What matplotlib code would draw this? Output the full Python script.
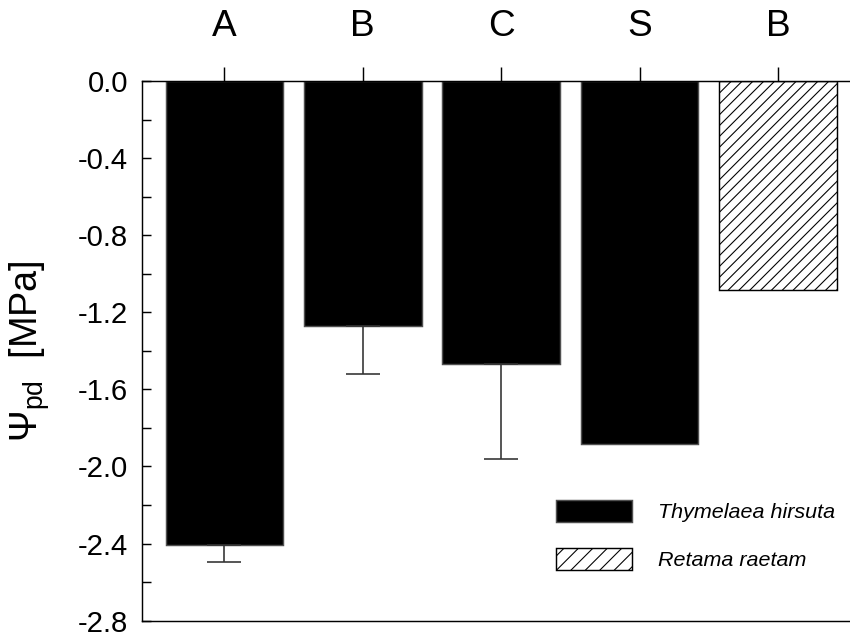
import matplotlib
matplotlib.use("Agg")
import matplotlib.pyplot as plt
from matplotlib.patches import Patch
import numpy as np

plt.rcParams['font.family'] = ['Liberation Sans', 'DejaVu Sans']
plt.rcParams['mathtext.fontset'] = 'custom'
plt.rcParams['mathtext.rm'] = 'Liberation Sans'
plt.rcParams['hatch.linewidth'] = 0.6

# data
categories = ['A', 'B', 'C', 'S', 'B']
psi_pd = [-2.41, -1.27, -1.47, -1.885, -1.085]
psi_err = [0.085, 0.25, 0.49, 0.0, 0.0]
species = ['Thymelaea hirsuta', 'Thymelaea hirsuta', 'Thymelaea hirsuta',
           'Thymelaea hirsuta', 'Retama raetam']
yticks = [-2.8, -2.4, -2.0, -1.6, -1.2, -0.8, -0.4, 0.0]
ytick_labels = ['-2.8', '-2.4', '-2.0', '-1.6', '-1.2', '-0.8', '-0.4', '0.0']

DPI = 130
fig = plt.figure(figsize=(850 / DPI, 636 / DPI), dpi=DPI)
ax = fig.add_axes([142 / 850, 1 - 620.6 / 636, 1 - 142 / 850, (620.6 - 81) / 636])

x = np.arange(len(categories))
width = 0.85

# Thymelaea bars (solid black) and Retama bar (hatched)
for i in range(len(categories)):
    if species[i] == 'Thymelaea hirsuta':
        ax.bar(x[i], psi_pd[i], width, color='black', edgecolor='#505050', linewidth=0.8)
    else:
        ax.bar(x[i], psi_pd[i], width, color='white', edgecolor='black',
               linewidth=0.8, hatch='////')

# error bars only downwards
for i in range(len(categories)):
    if psi_err[i] > 0:
        ax.errorbar(x[i], psi_pd[i], yerr=[[psi_err[i]], [0]], fmt='none',
                    ecolor='#333333', elinewidth=0.9, capsize=9.4, capthick=0.9)

ax.set_xlim(-0.595, 4.521)
ax.set_ylim(-2.8, 0.0)

ax.spines['right'].set_visible(False)
for s in ['top', 'bottom', 'left']:
    ax.spines[s].set_linewidth(0.8)

ax.xaxis.tick_top()
ax.set_xticks(x)
ax.set_xticklabels(categories, fontsize=20.5)
ax.tick_params(axis='x', direction='out', length=7.7, width=0.8, pad=13)

ax.set_yticks(yticks)
ax.set_yticklabels(ytick_labels)
ax.set_yticks(np.array(yticks[:-1]) + 0.2, minor=True)
ax.tick_params(axis='y', which='both', direction='in', length=5, width=0.8,
               labelsize=16.2, pad=7.7)

fig.text(30 / 850, 1 - 351 / 636, r'$\mathregular{\Psi_{pd}}$  [MPa]',
         rotation=90, ha='center', va='center', fontsize=21)

handles = [Patch(facecolor='black', edgecolor='#505050', linewidth=0.8),
           Patch(facecolor='white', edgecolor='black', linewidth=0.8, hatch='///')]
leg = ax.legend(handles, ['Thymelaea hirsuta', 'Retama raetam'],
                loc='upper left', bbox_to_anchor=(0.5843, 0.2235),
                frameon=False, borderpad=0, borderaxespad=0,
                handlelength=3.55, handleheight=1.2, handletextpad=1.2,
                labelspacing=1.2, prop={'style': 'italic', 'size': 11.9})

fig.savefig('out.png', dpi=DPI)
